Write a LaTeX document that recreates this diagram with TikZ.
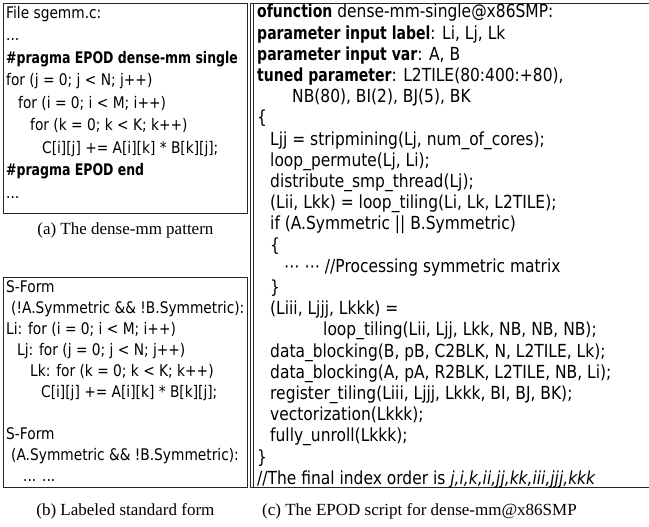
\documentclass[tikz,border=0pt]{standalone}
\usepackage{fontspec}
\setmainfont{Liberation Serif}
\newfontfamily\codefont[FakeStretch=0.86,BoldFeatures={FakeStretch=0.78}]{DejaVu Sans}
\usepackage{tikz}
\usetikzlibrary{positioning}

\tikzset{
	codebox/.style={draw=black!85,line width=0.8pt,anchor=north west,inner sep=0pt},
	codetext/.style={anchor=north west,align=left,inner sep=0pt,font=\codefont\fontsize{16}{21}\selectfont},
	pattext/.style={codetext,font=\codefont\fontsize{16}{22.5}\selectfont},
	scripttext/.style={codetext,font=\codefont\fontsize{18}{21.2}\selectfont},
	subcap/.style={inner sep=0pt,font=\fontsize{17}{20}\selectfont}
}

\begin{document}
\begin{tikzpicture}[x=1pt,y=-1pt]
	\useasboundingbox (0,0) rectangle (649,527);
	\clip (0,0) rectangle (649,527);

	\node [codebox,minimum width=244pt,minimum height=210pt] (patbox) at (3,3) {};
	\node [pattext] (pattxt) at (6,6)
	{
		File sgemm.c:\\
		...\\
		\textbf{\#pragma EPOD dense-mm single}\\
		for (j = 0; j < N; j++)\\
		\hspace*{12pt}for (i = 0; i < M; i++)\\
		\hspace*{24pt}for (k = 0; k < K; k++)\\
		\hspace*{36pt}C[i][j] += A[i][k] * B[k][j];\\
		\textbf{\#pragma EPOD end}\\
		...
	};
	\node [subcap,below=9pt of patbox] (patcap) {(a) The dense-mm pattern};

	\node [codebox,minimum width=244pt,minimum height=210pt] (formbox) at (3,277) {};
	\node [codetext] (formtxt) at (6,280)
	{
		S-Form\\
		\hspace*{5pt}(!A.Symmetric \&\& !B.Symmetric):\\
		Li: for (i = 0; i < M; i++)\\
		\hspace*{11pt}Lj: for (j = 0; j < N; j++)\\
		\hspace*{24pt}Lk: for (k = 0; k < K; k++)\\
		\hspace*{35pt}C[i][j] += A[i][k] * B[k][j];\\
		\mbox{}\\
		S-Form\\
		\hspace*{5pt}(A.Symmetric \&\& !B.Symmetric):\\
		\hspace*{17pt}... ...
	};
	\node [subcap,below=16pt of formbox] (formcap) {(b) Labeled standard form};

	\node [codebox,minimum width=420pt,minimum height=484pt] (scriptbox) at (250,3) {};
	\draw [black!85,line width=0.8pt] ([xshift=3pt]scriptbox.north west) -- ([xshift=3pt]scriptbox.south west);
	\node [scripttext] (scripttxt) at (257,4)
	{
		\textbf{ofunction} dense-mm-single@x86SMP:\\
		\textbf{parameter input label}: Li, Lj, Lk\\
		\textbf{parameter input var}: A, B\\
		\textbf{tuned parameter}: L2TILE(80:400:+80),\\
		\hspace*{35pt}NB(80), BI(2), BJ(5), BK\\
		\{\\
		\hspace*{13pt}Ljj = stripmining(Lj, num\_of\_cores);\\
		\hspace*{13pt}loop\_permute(Lj, Li);\\
		\hspace*{13pt}distribute\_smp\_thread(Lj);\\
		\hspace*{13pt}(Lii, Lkk) = loop\_tiling(Li, Lk, L2TILE);\\
		\hspace*{13pt}if (A.Symmetric || B.Symmetric)\\
		\hspace*{13pt}\{\\
		\hspace*{27pt}\char"22EF{} \char"22EF{} //Processing symmetric matrix\\
		\hspace*{13pt}\}\\
		\hspace*{13pt}(Liii, Ljjj, Lkkk) =\\
		\hspace*{66pt}loop\_tiling(Lii, Ljj, Lkk, NB, NB, NB);\\
		\hspace*{13pt}data\_blocking(B, pB, C2BLK, N, L2TILE, Lk);\\
		\hspace*{13pt}data\_blocking(A, pA, R2BLK, L2TILE, NB, Li);\\
		\hspace*{13pt}register\_tiling(Liii, Ljjj, Lkkk, BI, BJ, BK);\\
		\hspace*{13pt}vectorization(Lkkk);\\
		\hspace*{13pt}fully\_unroll(Lkkk);\\
		\}\\
		//The final index order is \textit{j,i,k,ii,jj,kk,iii,jjj,kkk}
	};
	\node [subcap,anchor=north west,below right=16pt and 12pt of scriptbox.south west] (scriptcap) {(c) The EPOD script for dense-mm@x86SMP};
\end{tikzpicture}
\end{document}
